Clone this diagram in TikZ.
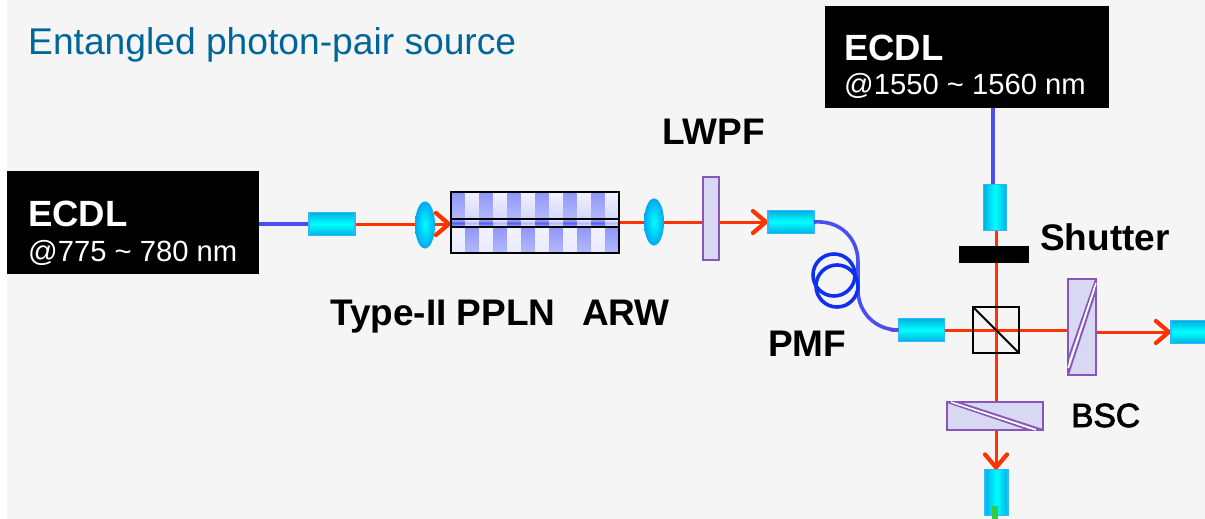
\documentclass[tikz,border=0pt]{standalone}
\usepackage{fontspec}
\setmainfont{Liberation Sans}
\newfontfamily\heavyfont[FakeBold=2.5]{Liberation Sans}
\usetikzlibrary{arrows.meta,backgrounds,shapes.geometric}
\definecolor{panel}{HTML}{F5F5F5}
\definecolor{titleblue}{HTML}{00669A}
\definecolor{beamred}{HTML}{FF3300}
\definecolor{fibreblue}{HTML}{4A50F0}
\definecolor{coilblue}{HTML}{1030F0}
\definecolor{plateedge}{HTML}{8855BB}
\definecolor{platefill}{HTML}{D8D8F2}
\definecolor{colledge}{HTML}{33B5FF}
\definecolor{colldark}{HTML}{00B0E0}
\definecolor{lensedge}{HTML}{00A8F0}
\definecolor{tailgreen}{HTML}{33CC44}
\definecolor{domdark}{HTML}{8F96FA}
\definecolor{dommid}{HTML}{B4BAFB}
\definecolor{domlight}{HTML}{F2F2FF}
\definecolor{domcore}{HTML}{5060F0}
\tikzset{
  laser/.style={fill=black, inner sep=0pt, outer sep=0pt},
  lasername/.style={anchor=base west, inner sep=0pt, text=white, font=\fontsize{36.5}{36.5}\selectfont\bfseries},
  laserband/.style={anchor=base west, inner sep=0pt, text=white, font=\fontsize{29.2}{29.2}\selectfont},
  partname/.style={anchor=base west, inner sep=0pt, font=\fontsize{37}{37}\selectfont\bfseries},
  collh/.style={draw=colledge, line width=1.2pt, inner sep=0pt, outer sep=0pt, minimum width=46pt, minimum height=23pt, top color=colldark, bottom color=colldark, middle color=cyan},
  collv/.style={draw=colledge, line width=1.2pt, inner sep=0pt, outer sep=0pt, minimum width=23pt, minimum height=46pt, left color=colldark, right color=colldark, middle color=cyan},
  lens/.style={ellipse, inner sep=0pt, outer sep=0pt, minimum width=20pt, minimum height=47pt, inner color=cyan, outer color=lensedge},
  plate/.style={draw=plateedge, fill=platefill, line width=1.8pt, inner sep=0pt, outer sep=0pt},
  wedge/.style={draw=plateedge, line width=1.8pt},
  wedgegap/.style={draw=white, line width=1.5pt},
  beam/.style={draw=beamred, line width=3pt},
  beamend/.style={beam, -{Straight Barb[length=13pt,width=22pt,line width=4.2pt,round]}},
  fibre/.style={draw=fibreblue, line width=3.6pt},
}
\begin{document}
\begin{tikzpicture}[x=1pt,y=-1pt]
\useasboundingbox (0,0) rectangle (1205,519);

\node[laser, minimum width=252pt, minimum height=103pt] (ecdla) at (133,222.5) {};
\node[laser, minimum width=284pt, minimum height=102pt] (ecdlb) at (967,57) {};
\node[collh] (colla) at (332,224) {};
\node[lens] (lensa) at (425,225) {};
\node[inner sep=0pt, outer sep=0pt, minimum width=168pt, minimum height=61pt] (ppln) at (535,222.5) {};
\node[lens] (lensb) at (654,222) {};
\node[plate, minimum width=16pt, minimum height=83pt] (lwpf) at (711,218.5) {};
\node[collh] (collb) at (791,222) {};
\node[collh] (collc) at (921.5,330) {};
\node[collv] (colld) at (995,207.5) {};
\node[fill=black, inner sep=0pt, outer sep=0pt, minimum width=70pt, minimum height=17pt] (shutter) at (994,254.5) {};
\node[draw=black, line width=1.8pt, inner sep=0pt, outer sep=0pt, minimum size=46pt] (pbs) at (996,330) {};
\node[plate, minimum width=28pt, minimum height=96pt] (bscr) at (1082,327) {};
\node[plate, minimum width=96pt, minimum height=28pt] (bscb) at (995,416) {};
\node[collh, minimum width=36pt, anchor=west] (colle) at (1171,332) {};
\node[collv] (collf) at (996.5,492.5) {};
\coordinate (coila) at (834,275);
\coordinate (coilb) at (837,286);
\coordinate (greenend) at (995,519);
\coordinate (greentop) at (995,506);
\coordinate (bandtop) at (535,219);
\coordinate (bandbot) at (535,227);
\coordinate (pigtail) at (891,330);
\coordinate (fibretop) at (993,108);
\coordinate (fibrebot) at (993,184);

\begin{scope}[on background layer]
\fill[panel] (7,0) rectangle (1205,519);
\draw[fibre] (ecdla.east |- colla.west) -- (colla.west);
\draw[fibre] (fibretop) -- (fibrebot);
\draw[beam] (colla.east) -- (colla.east -| lensa.center);
\draw[beamend] (lensa.center |- colla.east) -- (ppln.west |- colla.east);
\draw[beam] (ppln.east) -- (ppln.east -| lwpf.west);
\draw[beamend] (lwpf.east |- collb.west) -- (collb.west);
\draw[beam] (pigtail) -- (collc.west);
\draw[beam] (collc.east) -- (collc.east -| bscr.west);
\draw[beamend] (bscr.east |- colle.west) -- (colle.west);
\draw[beam] (colld.south -| pbs.north) -- (bscb.north -| pbs.north);
\draw[beamend] (bscb.south -| pbs.south) -- (collf.north -| pbs.south);
\end{scope}

\foreach \i in {0,...,5} {
  \fill[top color=domdark, bottom color=dommid] (451+28*\i,192) rectangle ++(14,27);
  \fill[top color=domlight, bottom color=dommid!60!white] (465+28*\i,192) rectangle ++(14,27);
  \fill[top color=domlight, bottom color=domlight!85!dommid] (451+28*\i,227) rectangle ++(14,26);
  \fill[top color=domdark, bottom color=dommid] (465+28*\i,227) rectangle ++(14,26);
  \fill[top color=dommid, bottom color=dommid, middle color=domcore] (451+28*\i,219) rectangle ++(14,8);
  \fill[top color=domlight, bottom color=domlight, middle color=dommid] (465+28*\i,219) rectangle ++(14,8);
}
\draw[line width=1.8pt] (ppln.north west) rectangle (ppln.south east);
\draw[line width=1.8pt] (ppln.west |- bandtop) -- (ppln.east |- bandtop);
\draw[line width=1.8pt] (ppln.west |- bandbot) -- (ppln.east |- bandbot);

\draw[fibre] (collb.east) .. controls (840,220) and (858,238) .. (858,262) -- (858,290) .. controls (858,312) and (875,330) .. (collc.west);
\draw[coilblue, line width=3.6pt] (coila) circle (21pt);
\draw[coilblue, line width=3.6pt] (coilb) circle (21pt);

\draw[line width=1.8pt] (pbs.north west) -- (pbs.south east);
\draw[wedge] (bscr.north east) -- ([yshift=15pt]bscr.south west);
\draw[wedgegap] ([yshift=-4pt]bscr.north east) -- ([yshift=7pt]bscr.south west);
\draw[wedge] ([yshift=-11pt]bscr.north east) -- (bscr.south west);
\draw[wedge] (bscb.north west) -- ([xshift=-13pt]bscb.south east);
\draw[wedgegap] ([xshift=4pt]bscb.north west) -- ([xshift=-7pt]bscb.south east);
\draw[wedge] ([xshift=10pt]bscb.north west) -- (bscb.south east);
\draw[tailgreen, line width=6pt] (greentop) -- (greenend);

\node[anchor=base west, inner sep=0pt, text=titleblue, font=\fontsize{37.2}{37.2}\selectfont] (title) at (28,54.5) {Entangled photon-pair source};
\node[lasername] (namea) at (28,226) {ECDL};
\node[laserband] (banda) at (28,261) {@775 \textasciitilde{} 780 nm};
\node[lasername] (nameb) at (844,60) {ECDL};
\node[laserband] (bandb) at (844,95) {@1550 \textasciitilde{} 1560 nm};
\node[partname] (lwpfname) at (662,144) {LWPF};
\node[partname] (pplnname) at (330,325) {Type-II PPLN};
\node[partname] (arwname) at (582,325) {ARW};
\node[partname] (pmfname) at (768,356) {PMF};
\node[partname] (shuttername) at (1040,250) {Shutter};
\node[anchor=base west, inner sep=0pt, font=\fontsize{33.5}{33.5}\selectfont\heavyfont] (bscname) at (1071,427) {BSC};
\end{tikzpicture}
\end{document}
